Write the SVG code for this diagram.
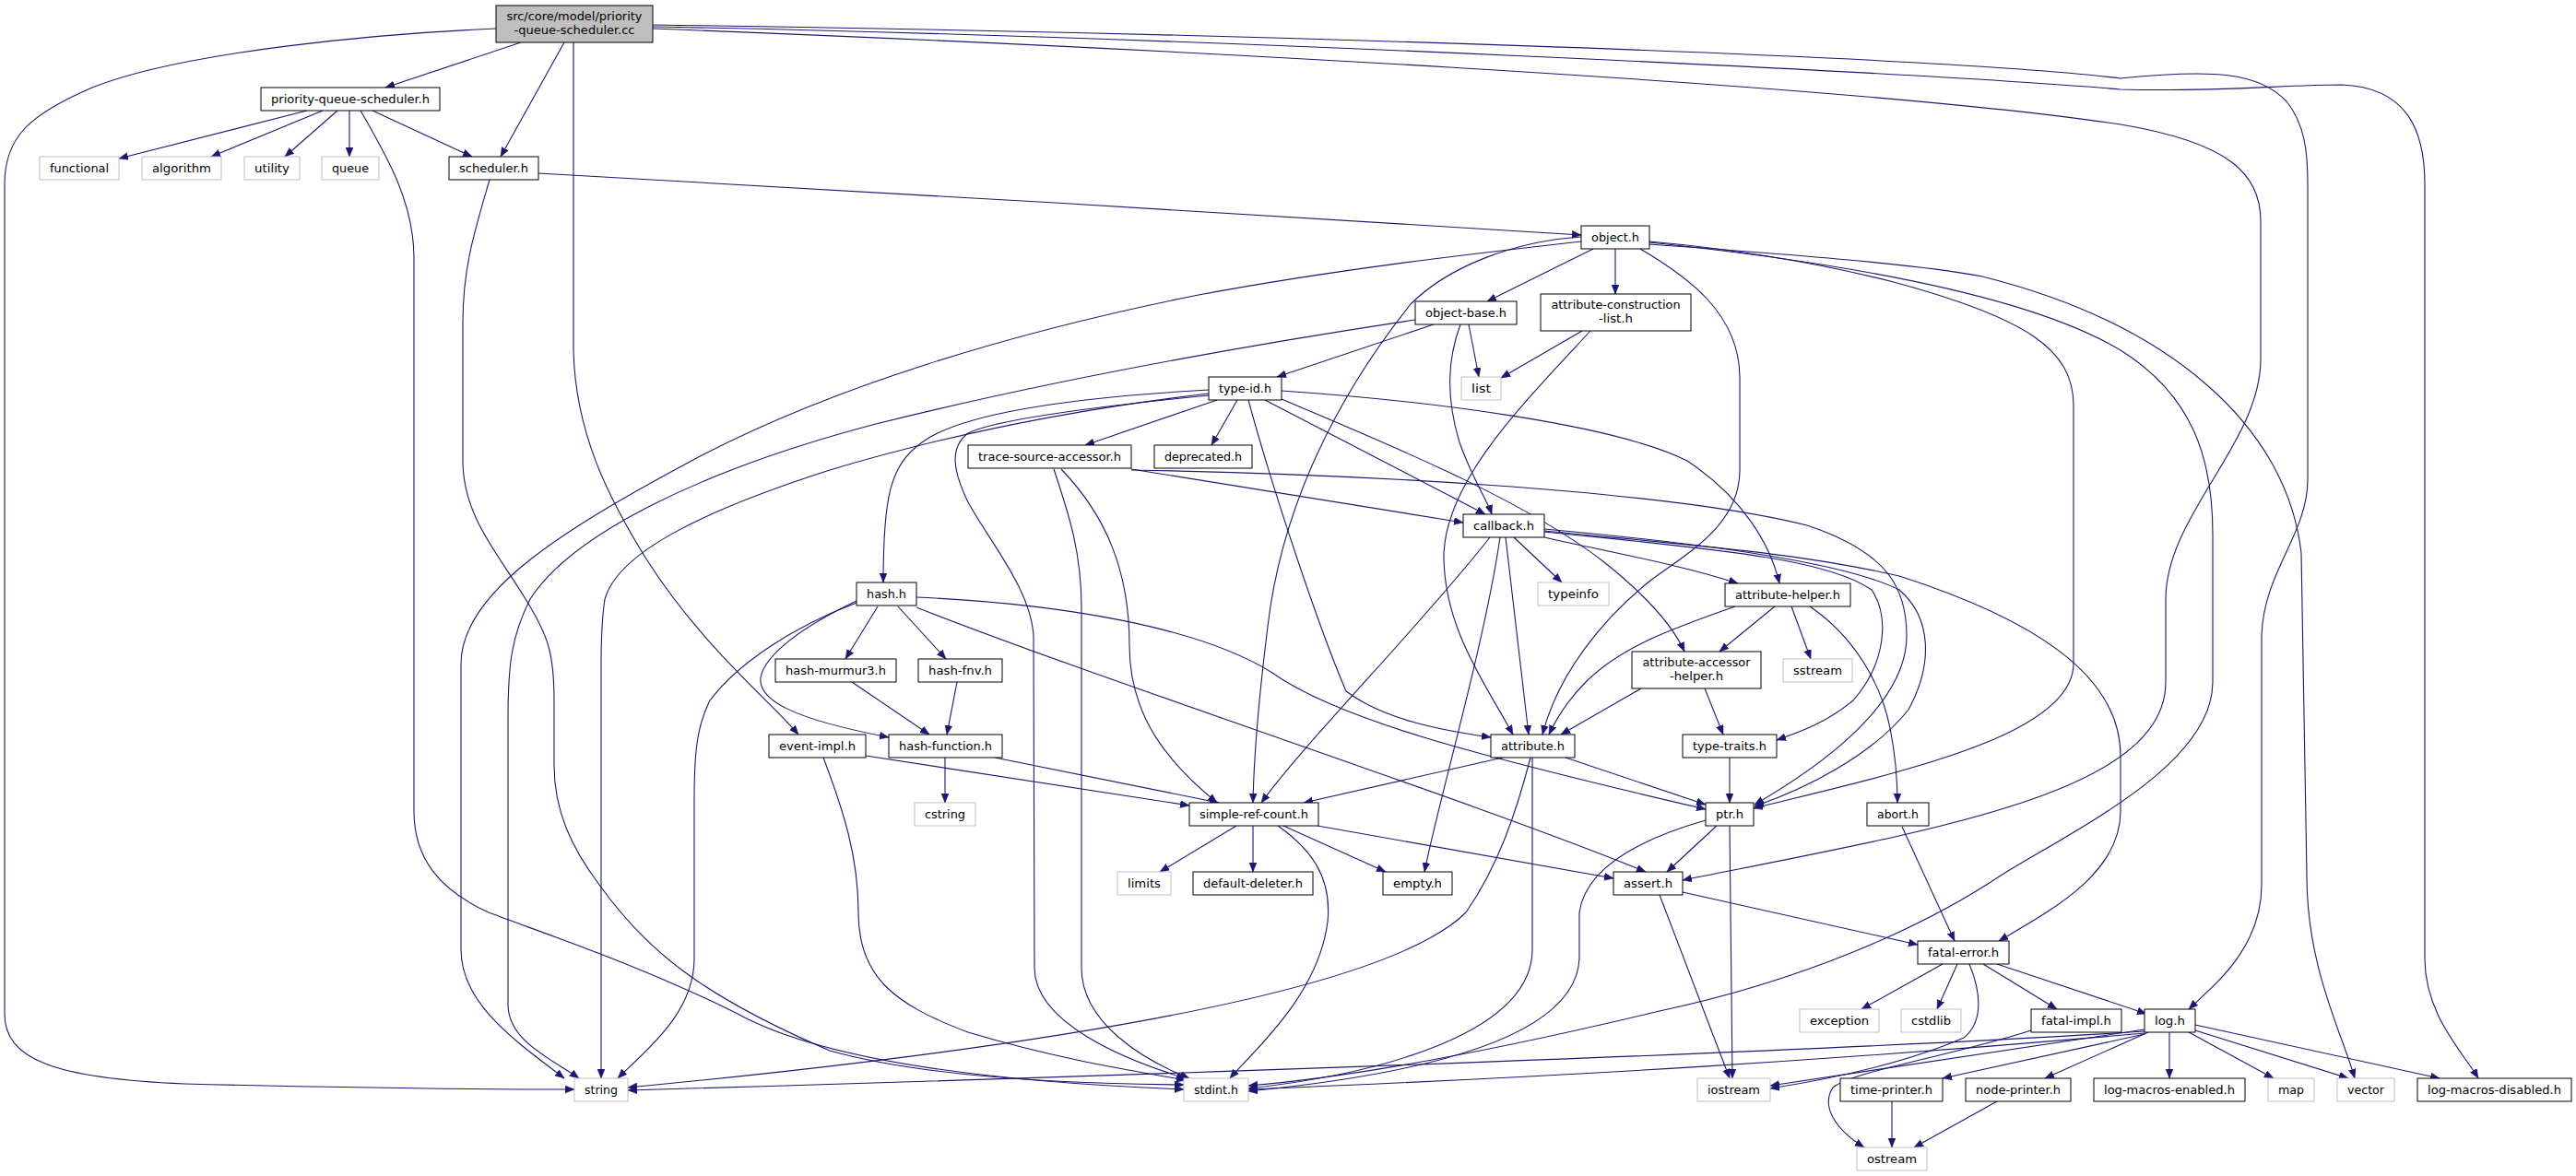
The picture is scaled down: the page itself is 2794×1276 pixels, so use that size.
<svg xmlns="http://www.w3.org/2000/svg" width="2794" height="1276" viewBox="0 0 2794 1276">
<defs>
<style>
.node rect{fill:#fff;stroke:#000;stroke-width:1}
.sys rect{stroke:#bfbfbf}
.root rect{fill:#bfbfbf}
text{font-family:"DejaVu Sans Condensed","DejaVu Sans","Liberation Sans",sans-serif;font-size:13px;text-anchor:middle;fill:#000}
#edges path{fill:none;stroke:#191970;stroke-width:1.1;marker-end:url(#ah)}
</style>
<marker id="ah" markerUnits="userSpaceOnUse" markerWidth="11" markerHeight="9" refX="10" refY="4" orient="auto"><path d="M0,0 L10,4 L0,8 z" fill="#191970" stroke="#191970" stroke-width="0.5"/></marker>
</defs>
<rect width="2794" height="1276" fill="#fff"/>
<g id="edges">
<path d="M565,46 L418,95"/>
<path d="M612,46 L543,170"/>
<path d="M538,31 C420,36 200,55 100,95 C30,125 5,150 5,200 L5,1100 C5,1150 60,1170 200,1176 C400,1181 560,1182 623,1182"/>
<path d="M622,46 L622,380 C624,470 660,540 700,605 C760,700 835,760 866,797"/>
<path d="M333,120 L129,172"/>
<path d="M350,120 L229,170"/>
<path d="M366,120 L309,170"/>
<path d="M379,120 L379,170"/>
<path d="M404,120 L512,170"/>
<path d="M391,120 C420,170 449,220 449,280 L449,880 C449,930 475,965 530,990 C610,1020 700,1050 800,1100 C900,1155 1100,1175 1284,1182"/>
<path d="M584,188 C900,205 1400,235 1715,255"/>
<path d="M531,195 C515,250 502,290 502,350 L502,500 C502,560 540,600 570,650 C595,690 601,710 601,760 L601,830 C601,880 620,920 650,960 C700,1030 760,1080 900,1140 C1000,1168 1150,1176 1284,1177"/>
<path d="M1728,270 L1613,327"/>
<path d="M1752,270 L1752,319"/>
<path d="M1779,270 C1830,300 1887,340 1887,410 L1887,510 C1887,570 1830,600 1790,630 C1740,670 1690,730 1673,797"/>
<path d="M1789,262 C1900,272 1990,290 2050,305 C2200,345 2249,380 2249,440 L2249,720 C2249,800 2050,840 1902,877"/>
<path d="M1789,263 C2000,285 2200,320 2300,380 C2380,430 2400,500 2400,580 L2400,740 C2400,830 2250,900 2170,950 C2080,1010 1950,1065 1800,1097 C1600,1145 1450,1170 1354,1178"/>
<path d="M1789,265 C2000,280 2100,290 2150,300 C2350,350 2480,460 2496,600 L2502,950 C2502,1050 2540,1120 2554,1170"/>
<path d="M1715,257 C1640,262 1570,290 1530,330 C1450,430 1390,550 1375,680 C1365,760 1360,820 1359,871"/>
<path d="M1715,262 C1600,275 1450,292 1300,320 C1100,360 900,420 750,500 C620,570 500,640 500,720 L500,1030 C500,1090 560,1130 612,1170"/>
<path d="M1555,352 L1385,409"/>
<path d="M1593,352 L1604,409"/>
<path d="M1584,352 C1570,390 1568,430 1583,480 C1597,520 1612,540 1618,558"/>
<path d="M1535,347 C1350,375 1150,410 950,460 C760,510 620,580 575,650 C555,690 551,720 551,780 L551,1090 C551,1130 600,1150 628,1170"/>
<path d="M1716,359 L1628,410"/>
<path d="M1725,359 C1650,440 1570,520 1566,600 C1565,680 1610,740 1641,797"/>
<path d="M1320,434 L1177,483"/>
<path d="M1342,434 L1314,483"/>
<path d="M1372,434 L1611,558"/>
<path d="M1354,434 C1380,530 1430,680 1460,750 C1500,780 1560,792 1617,800"/>
<path d="M1390,433 C1500,480 1650,540 1740,610 C1790,650 1815,680 1827,707"/>
<path d="M1390,424 C1550,435 1750,460 1830,500 C1890,540 1920,590 1930,633"/>
<path d="M1311,423 C1150,432 1040,450 1000,480 C965,505 958,540 958,632"/>
<path d="M1311,427 C1200,440 1050,465 900,510 C760,555 670,600 656,650 C653,670 652,690 652,720 L652,1170"/>
<path d="M1311,429 C1200,440 1080,455 1050,470 C1030,485 1033,510 1050,545 C1075,590 1118,640 1121,690 L1122,1050 C1122,1110 1220,1150 1286,1170"/>
<path d="M1227,509 L1587,567"/>
<path d="M1227,510 C1450,514 1800,530 1960,570 C2050,600 2068,640 2068,690 C2068,770 1960,840 1903,873"/>
<path d="M1151,509 C1200,560 1225,620 1225,700 C1225,780 1270,830 1320,871"/>
<path d="M1143,509 C1160,560 1173,600 1173,660 L1173,1050 C1173,1110 1240,1150 1290,1170"/>
<path d="M1642,583 L1694,632"/>
<path d="M1675,583 C1750,600 1820,612 1885,633"/>
<path d="M1633,583 L1658,797"/>
<path d="M1616,583 C1540,680 1420,800 1368,871"/>
<path d="M1627,583 C1610,700 1560,870 1545,946"/>
<path d="M1675,574 C1850,590 2000,610 2060,640 C2095,670 2097,720 2070,770 C2030,820 1960,855 1903,875"/>
<path d="M1675,577 C1850,595 1980,605 2030,640 C2050,670 2045,720 2010,760 C1980,785 1950,795 1927,803"/>
<path d="M1675,576 C1850,593 1950,600 2060,625 C2200,670 2300,730 2300,820 L2300,880 C2300,950 2220,990 2168,1021"/>
<path d="M952,658 L917,715"/>
<path d="M974,658 L1026,715"/>
<path d="M929,652 C870,680 830,710 825,735 C822,760 860,780 964,800"/>
<path d="M929,654 C860,680 800,720 770,760 C755,790 753,820 753,870 L753,1040 C753,1100 700,1140 670,1170"/>
<path d="M994,648 C1150,655 1300,680 1380,730 C1450,780 1600,820 1850,878"/>
<path d="M994,659 C1200,740 1600,870 1785,946"/>
<path d="M924,740 L1008,797"/>
<path d="M1038,740 L1027,797"/>
<path d="M1025,822 L1025,871"/>
<path d="M1079,822 L1322,871"/>
<path d="M939,820 L1290,874"/>
<path d="M893,822 C915,880 931,930 931,990 C931,1060 970,1090 1050,1120 C1150,1150 1230,1162 1286,1172"/>
<path d="M1630,822 L1414,871"/>
<path d="M1698,822 L1850,873"/>
<path d="M1660,822 C1645,880 1625,940 1590,990 C1500,1080 1100,1140 681,1180"/>
<path d="M1662,822 L1662,1030 C1662,1120 1500,1165 1354,1181"/>
<path d="M1925,658 L1865,707"/>
<path d="M1943,658 L1964,715"/>
<path d="M1963,658 C2010,690 2040,740 2050,790 C2056,820 2058,850 2058,871"/>
<path d="M1882,658 C1820,680 1760,700 1720,740 C1700,760 1688,780 1680,797"/>
<path d="M1849,747 L1869,797"/>
<path d="M1780,747 L1693,797"/>
<path d="M1876,822 L1876,871"/>
<path d="M1862,896 L1808,946"/>
<path d="M1876,896 L1879,1170"/>
<path d="M1850,890 C1780,910 1720,940 1713,990 L1713,1040 C1710,1110 1600,1160 1354,1184"/>
<path d="M1341,896 L1258,946"/>
<path d="M1359,896 L1359,946"/>
<path d="M1392,896 L1503,946"/>
<path d="M1429,896 L1750,953"/>
<path d="M1386,896 C1420,920 1445,950 1440,1000 C1430,1080 1360,1140 1334,1170"/>
<path d="M2063,897 L2120,1021"/>
<path d="M1825,968 L2080,1025"/>
<path d="M1800,971 L1876,1170"/>
<path d="M2107,1046 L2019,1095"/>
<path d="M2123,1046 L2101,1095"/>
<path d="M2151,1046 L2231,1095"/>
<path d="M2166,1046 L2328,1100"/>
<path d="M2136,1046 C2150,1080 2150,1110 2130,1126 C2070,1152 1990,1170 1920,1181"/>
<path d="M2203,1118 C2120,1145 2010,1162 1988,1180 C1975,1200 1990,1225 2022,1245"/>
<path d="M2326,1117 L1920,1178"/>
<path d="M2326,1119 C2000,1140 1300,1165 681,1183"/>
<path d="M2326,1121 C2000,1150 1700,1168 1354,1182"/>
<path d="M2326,1122 L2107,1170"/>
<path d="M2330,1120 L2218,1170"/>
<path d="M2353,1120 L2353,1170"/>
<path d="M2374,1120 L2466,1170"/>
<path d="M2381,1118 L2547,1170"/>
<path d="M2381,1112 L2646,1170"/>
<path d="M2052,1195 L2052,1245"/>
<path d="M2166,1195 L2076,1245"/>
<path d="M708,31 C1200,50 2000,90 2300,135 C2420,155 2452,190 2452,240 L2452,390 C2452,480 2349,560 2349,650 L2349,740 C2349,860 2100,900 1825,955"/>
<path d="M708,27 C1300,35 2100,60 2300,85 C2400,75 2450,78 2480,110 C2500,135 2503,165 2503,200 L2503,520 C2503,580 2455,620 2453,690 L2453,960 C2453,1030 2400,1070 2374,1095"/>
<path d="M708,29 C1300,40 2100,80 2300,97 C2400,100 2480,92 2540,92 C2610,95 2630,140 2630,200 L2630,1040 C2630,1100 2670,1140 2688,1170"/>
</g>
<g id="n-root" class="node root"><rect x="538" y="6" width="170" height="40"/><text x="623" y="22" textLength="147" lengthAdjust="spacingAndGlyphs">src/core/model/priority</text><text x="623" y="37" textLength="131" lengthAdjust="spacingAndGlyphs">-queue-scheduler.cc</text></g>
<g id="n-pqs" class="node"><rect x="283" y="95" width="194" height="25"/><text x="380" y="112" textLength="172" lengthAdjust="spacingAndGlyphs">priority-queue-scheduler.h</text></g>
<g id="n-functional" class="node sys"><rect x="43" y="170" width="86" height="25"/><text x="86" y="187" textLength="64" lengthAdjust="spacingAndGlyphs">functional</text></g>
<g id="n-algorithm" class="node sys"><rect x="154" y="170" width="86" height="25"/><text x="197" y="187" textLength="64" lengthAdjust="spacingAndGlyphs">algorithm</text></g>
<g id="n-utility" class="node sys"><rect x="265" y="170" width="60" height="25"/><text x="295" y="187" textLength="38" lengthAdjust="spacingAndGlyphs">utility</text></g>
<g id="n-queue" class="node sys"><rect x="349" y="170" width="62" height="25"/><text x="380" y="187" textLength="40" lengthAdjust="spacingAndGlyphs">queue</text></g>
<g id="n-scheduler" class="node"><rect x="487" y="170" width="97" height="25"/><text x="535.5" y="187" textLength="75" lengthAdjust="spacingAndGlyphs">scheduler.h</text></g>
<g id="n-object" class="node"><rect x="1715" y="245" width="74" height="25"/><text x="1752" y="262" textLength="52" lengthAdjust="spacingAndGlyphs">object.h</text></g>
<g id="n-objectbase" class="node"><rect x="1535" y="327" width="110" height="25"/><text x="1590" y="344" textLength="88" lengthAdjust="spacingAndGlyphs">object-base.h</text></g>
<g id="n-acl" class="node"><rect x="1671" y="319" width="163" height="40"/><text x="1752.5" y="335" textLength="140" lengthAdjust="spacingAndGlyphs">attribute-construction</text><text x="1752.5" y="350" textLength="37" lengthAdjust="spacingAndGlyphs">-list.h</text></g>
<g id="n-typeid" class="node"><rect x="1311" y="409" width="79" height="25"/><text x="1350.5" y="426" textLength="57" lengthAdjust="spacingAndGlyphs">type-id.h</text></g>
<g id="n-list" class="node sys"><rect x="1585" y="409" width="43" height="25"/><text x="1606.5" y="426" textLength="21" lengthAdjust="spacingAndGlyphs">list</text></g>
<g id="n-tsa" class="node"><rect x="1050" y="483" width="177" height="25"/><text x="1138.5" y="500" textLength="155" lengthAdjust="spacingAndGlyphs">trace-source-accessor.h</text></g>
<g id="n-deprecated" class="node"><rect x="1252" y="483" width="106" height="25"/><text x="1305" y="500" textLength="84" lengthAdjust="spacingAndGlyphs">deprecated.h</text></g>
<g id="n-callback" class="node"><rect x="1587" y="558" width="88" height="25"/><text x="1631" y="575" textLength="66" lengthAdjust="spacingAndGlyphs">callback.h</text></g>
<g id="n-hash" class="node"><rect x="929" y="632" width="65" height="25"/><text x="961.5" y="649" textLength="43" lengthAdjust="spacingAndGlyphs">hash.h</text></g>
<g id="n-typeinfo" class="node sys"><rect x="1668" y="632" width="77" height="25"/><text x="1706.5" y="649" textLength="55" lengthAdjust="spacingAndGlyphs">typeinfo</text></g>
<g id="n-ahelper" class="node"><rect x="1871" y="633" width="136" height="25"/><text x="1939" y="650" textLength="114" lengthAdjust="spacingAndGlyphs">attribute-helper.h</text></g>
<g id="n-murmur" class="node"><rect x="841" y="715" width="131" height="25"/><text x="906.5" y="732" textLength="109" lengthAdjust="spacingAndGlyphs">hash-murmur3.h</text></g>
<g id="n-fnv" class="node"><rect x="996" y="715" width="91" height="25"/><text x="1041.5" y="732" textLength="69" lengthAdjust="spacingAndGlyphs">hash-fnv.h</text></g>
<g id="n-aah" class="node"><rect x="1770" y="707" width="140" height="40"/><text x="1840" y="723" textLength="117" lengthAdjust="spacingAndGlyphs">attribute-accessor</text><text x="1840" y="738" textLength="58" lengthAdjust="spacingAndGlyphs">-helper.h</text></g>
<g id="n-sstream" class="node sys"><rect x="1934" y="715" width="75" height="25"/><text x="1971.5" y="732" textLength="53" lengthAdjust="spacingAndGlyphs">sstream</text></g>
<g id="n-eventimpl" class="node"><rect x="834" y="797" width="105" height="25"/><text x="886.5" y="814" textLength="83" lengthAdjust="spacingAndGlyphs">event-impl.h</text></g>
<g id="n-hashfn" class="node"><rect x="964" y="797" width="123" height="25"/><text x="1025.5" y="814" textLength="101" lengthAdjust="spacingAndGlyphs">hash-function.h</text></g>
<g id="n-attribute" class="node"><rect x="1617" y="797" width="91" height="25"/><text x="1662.5" y="814" textLength="69" lengthAdjust="spacingAndGlyphs">attribute.h</text></g>
<g id="n-typetraits" class="node"><rect x="1825" y="797" width="102" height="25"/><text x="1876" y="814" textLength="80" lengthAdjust="spacingAndGlyphs">type-traits.h</text></g>
<g id="n-cstring" class="node sys"><rect x="992" y="871" width="66" height="25"/><text x="1025" y="888" textLength="44" lengthAdjust="spacingAndGlyphs">cstring</text></g>
<g id="n-src" class="node"><rect x="1290" y="871" width="140" height="25"/><text x="1360" y="888" textLength="118" lengthAdjust="spacingAndGlyphs">simple-ref-count.h</text></g>
<g id="n-ptr" class="node"><rect x="1850" y="871" width="52" height="25"/><text x="1876" y="888" textLength="30" lengthAdjust="spacingAndGlyphs">ptr.h</text></g>
<g id="n-abort" class="node"><rect x="2025" y="871" width="67" height="25"/><text x="2058.5" y="888" textLength="45" lengthAdjust="spacingAndGlyphs">abort.h</text></g>
<g id="n-limits" class="node sys"><rect x="1212" y="946" width="58" height="25"/><text x="1241" y="963" textLength="36" lengthAdjust="spacingAndGlyphs">limits</text></g>
<g id="n-deleter" class="node"><rect x="1294" y="946" width="130" height="25"/><text x="1359" y="963" textLength="108" lengthAdjust="spacingAndGlyphs">default-deleter.h</text></g>
<g id="n-empty" class="node"><rect x="1500" y="946" width="75" height="25"/><text x="1537.5" y="963" textLength="53" lengthAdjust="spacingAndGlyphs">empty.h</text></g>
<g id="n-assert" class="node"><rect x="1750" y="946" width="75" height="25"/><text x="1787.5" y="963" textLength="53" lengthAdjust="spacingAndGlyphs">assert.h</text></g>
<g id="n-fatal" class="node"><rect x="2080" y="1021" width="99" height="25"/><text x="2129.5" y="1038" textLength="77" lengthAdjust="spacingAndGlyphs">fatal-error.h</text></g>
<g id="n-exception" class="node sys"><rect x="1952" y="1095" width="86" height="25"/><text x="1995" y="1112" textLength="64" lengthAdjust="spacingAndGlyphs">exception</text></g>
<g id="n-cstdlib" class="node sys"><rect x="2062" y="1095" width="65" height="25"/><text x="2094.5" y="1112" textLength="43" lengthAdjust="spacingAndGlyphs">cstdlib</text></g>
<g id="n-fatalimpl" class="node"><rect x="2203" y="1095" width="98" height="25"/><text x="2252" y="1112" textLength="76" lengthAdjust="spacingAndGlyphs">fatal-impl.h</text></g>
<g id="n-log" class="node"><rect x="2326" y="1095" width="55" height="25"/><text x="2353.5" y="1112" textLength="33" lengthAdjust="spacingAndGlyphs">log.h</text></g>
<g id="n-string" class="node sys"><rect x="623" y="1170" width="58" height="25"/><text x="652" y="1187" textLength="36" lengthAdjust="spacingAndGlyphs">string</text></g>
<g id="n-stdint" class="node sys"><rect x="1284" y="1170" width="70" height="25"/><text x="1319" y="1187" textLength="48" lengthAdjust="spacingAndGlyphs">stdint.h</text></g>
<g id="n-iostream" class="node sys"><rect x="1841" y="1170" width="79" height="25"/><text x="1880.5" y="1187" textLength="57" lengthAdjust="spacingAndGlyphs">iostream</text></g>
<g id="n-timeprinter" class="node"><rect x="1996" y="1170" width="111" height="25"/><text x="2051.5" y="1187" textLength="89" lengthAdjust="spacingAndGlyphs">time-printer.h</text></g>
<g id="n-nodeprinter" class="node"><rect x="2132" y="1170" width="114" height="25"/><text x="2189" y="1187" textLength="92" lengthAdjust="spacingAndGlyphs">node-printer.h</text></g>
<g id="n-lme" class="node"><rect x="2271" y="1170" width="164" height="25"/><text x="2353" y="1187" textLength="142" lengthAdjust="spacingAndGlyphs">log-macros-enabled.h</text></g>
<g id="n-map" class="node sys"><rect x="2460" y="1170" width="50" height="25"/><text x="2485" y="1187" textLength="28" lengthAdjust="spacingAndGlyphs">map</text></g>
<g id="n-vector" class="node sys"><rect x="2535" y="1170" width="62" height="25"/><text x="2566" y="1187" textLength="40" lengthAdjust="spacingAndGlyphs">vector</text></g>
<g id="n-lmd" class="node"><rect x="2622" y="1170" width="167" height="25"/><text x="2705.5" y="1187" textLength="145" lengthAdjust="spacingAndGlyphs">log-macros-disabled.h</text></g>
<g id="n-ostream" class="node sys"><rect x="2014" y="1245" width="76" height="25"/><text x="2052" y="1262" textLength="54" lengthAdjust="spacingAndGlyphs">ostream</text></g>
</svg>
